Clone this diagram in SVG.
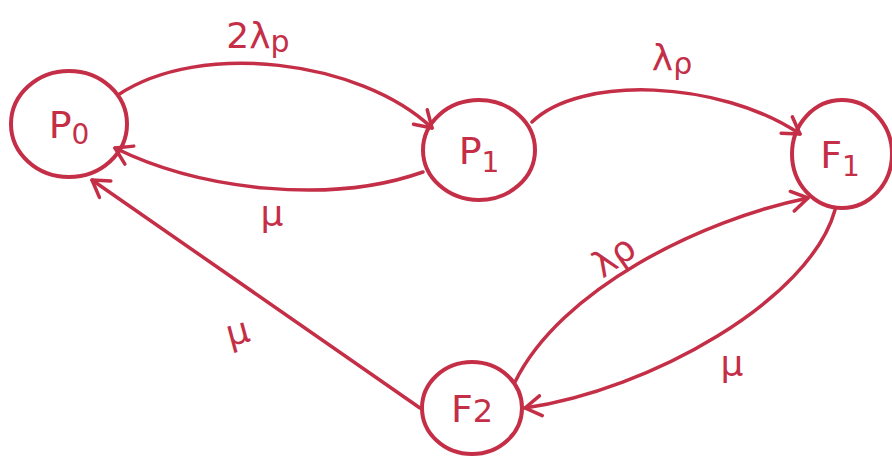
<svg xmlns="http://www.w3.org/2000/svg" width="892" height="459" viewBox="0 0 892 459">
<style>
.n{fill:none;stroke:#c42f47;stroke-width:4}
.e{fill:none;stroke:#c42f47;stroke-width:3.5;stroke-linecap:round}
.t{font-family:"DejaVu Sans","Liberation Sans",sans-serif;fill:#c42f47;font-size:38px;text-anchor:middle}
.l{font-family:"DejaVu Sans","Liberation Sans",sans-serif;fill:#c42f47;font-size:36px;text-anchor:middle}
</style>
<defs>
<marker id="a" viewBox="-18 -12 22 24" refX="0" refY="0" markerWidth="22" markerHeight="24" markerUnits="userSpaceOnUse" orient="auto">
<path d="M-16,-10 L0,0 L-16,10" fill="none" stroke="#c42f47" stroke-width="3.5" stroke-linecap="round" stroke-linejoin="round"/>
</marker>
</defs>
<rect width="892" height="459" fill="#ffffff"/>
<g id="edges">
<path class="e" d="M118,95 C200,40 360,60 432,128" marker-end="url(#a)"/>
<path class="e" d="M423,172 C330,205 200,190 115,148" marker-end="url(#a)"/>
<path class="e" d="M532,122 C580,75 720,80 800,134" marker-end="url(#a)"/>
<path class="e" d="M835,210 C810,300 650,390 525,408" marker-end="url(#a)"/>
<path class="e" d="M515,382 C560,290 700,220 808,198" marker-end="url(#a)"/>
<path class="e" d="M420,408 L92,180" marker-end="url(#a)"/>
<text class="l" x="258" y="48">2λ<tspan font-size="30" dy="4">p</tspan></text>
<text class="l" x="672" y="70">λ<tspan font-size="30" dy="4">ρ</tspan></text>
<text class="l" x="272" y="226">μ</text>
<text class="l" x="615" y="268" transform="rotate(-35 615 258)">λρ</text>
<text class="l" x="238" y="344" transform="rotate(-15 238 334)">μ</text>
<text class="l" x="732" y="376">μ</text>
</g>
<g id="P0"><ellipse class="n" cx="69" cy="124" rx="58" ry="53"/><text class="t" x="69" y="138">P<tspan font-size="28" dy="6">0</tspan></text></g>
<g id="P1"><ellipse class="n" cx="479" cy="150" rx="56" ry="50"/><text class="t" x="479" y="164">P<tspan font-size="28" dy="8">1</tspan></text></g>
<g id="F1"><ellipse class="n" cx="842" cy="154" rx="50" ry="54"/><text class="t" x="840" y="168">F<tspan font-size="28" dy="8">1</tspan></text></g>
<g id="F2"><ellipse class="n" cx="472" cy="408" rx="50" ry="46"/><text class="t" x="472" y="422">F<tspan font-size="32">2</tspan></text></g>
</svg>
